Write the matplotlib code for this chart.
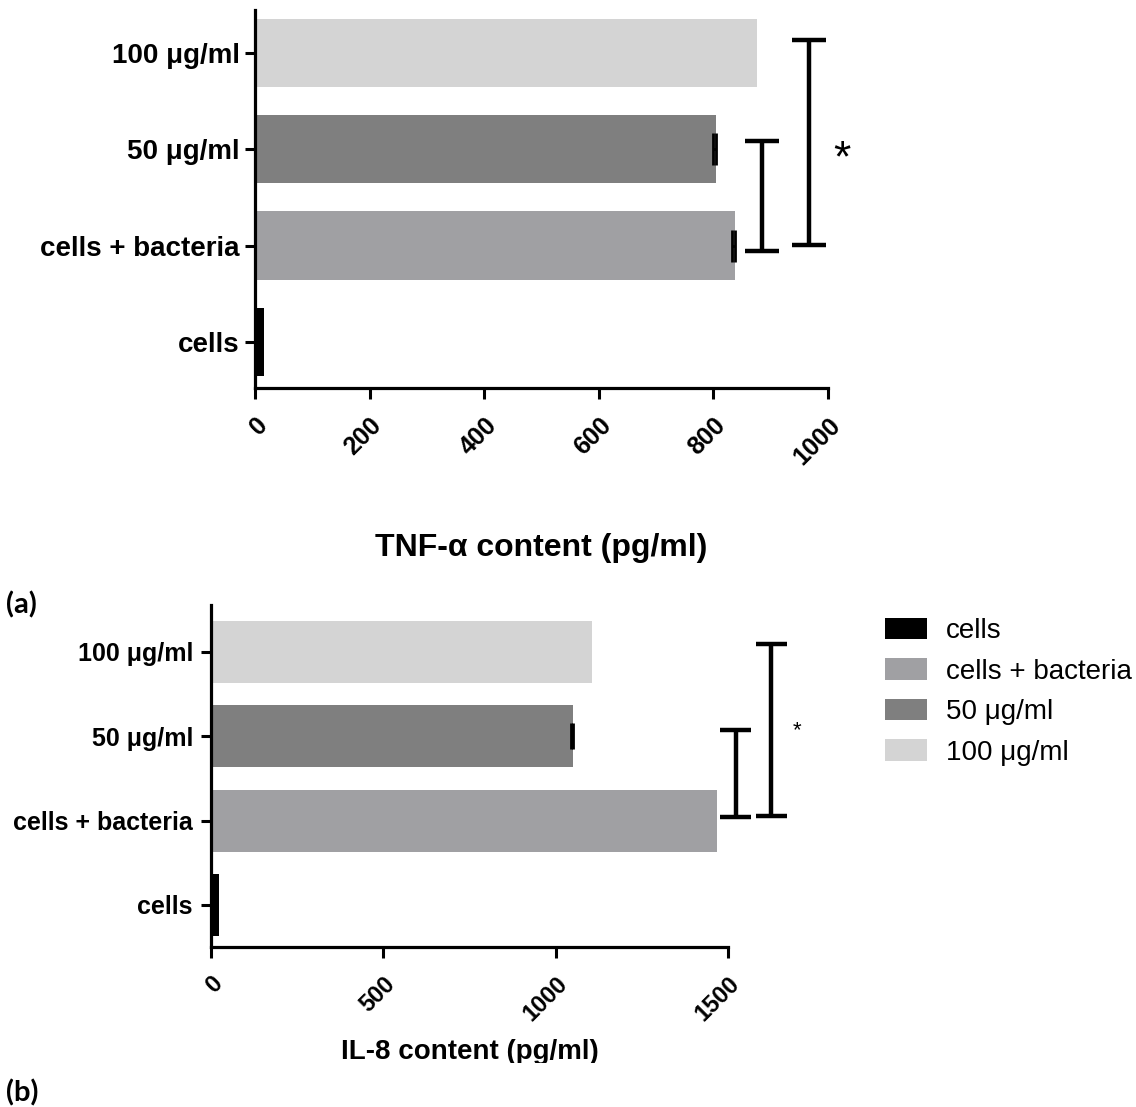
import matplotlib
matplotlib.use("Agg")
import matplotlib.pyplot as plt
from matplotlib.patches import Patch, Rectangle
import numpy as np

plt.rcParams["font.family"] = ["Liberation Sans", "DejaVu Sans"]

# --- data ---
groups = ["cells", "cells + bacteria", "50 μg/ml", "100 μg/ml"]
colors = ["#000000", "#a0a0a3", "#7f7f7f", "#d4d4d4"]

tnf_mean = [15, 838, 805, 876]
tnf_sem = [0, 5, 5, 0]
tnf_ticks = [0, 200, 400, 600, 800, 1000]

il8_mean = [23, 1467, 1049, 1104]
il8_sem = [0, 0, 5, 0]
il8_ticks = [0, 500, 1000, 1500]

# significance brackets: x position, (y start, y end)
tnf_br_x = [885, 967]
tnf_br_y = [(0.94, 2.09), (1.01, 3.13)]
il8_br_x = [1522, 1626]
il8_br_y = [(1.04, 2.07), (1.06, 3.10)]

W, H = 1136, 1107
fig = plt.figure(figsize=(W / 100, H / 100), dpi=100)


def style_axis(ax, ylabel_size, xtick_size, xlim, ylim, ticks, ypad):
    for s in ["top", "right"]:
        ax.spines[s].set_visible(False)
    for s in ["left", "bottom"]:
        ax.spines[s].set_linewidth(2.3)
    ax.set_xlim(*xlim)
    ax.set_ylim(*ylim)
    ax.set_xticks(ticks)
    ax.set_xticklabels([str(t) for t in ticks], rotation=45, ha="right",
                       va="top", rotation_mode="anchor",
                       fontsize=xtick_size, fontweight="bold")
    ax.set_yticks(range(len(groups)))
    ax.set_yticklabels(groups, fontsize=ylabel_size, fontweight="bold")
    ax.tick_params(axis="y", length=7, width=2.2, pad=ypad)
    ax.tick_params(axis="x", length=8, width=2.2, pad=10)


def draw_bars(ax, mean, sem, height, capsize):
    pos = np.arange(len(groups))
    ax.barh(pos, mean, height=height, color=colors, zorder=2)
    for p, m, e in zip(pos, mean, sem):
        if e > 0:
            ax.errorbar(m, p, xerr=[[e], [0]], fmt="none", ecolor="black",
                        elinewidth=2, capsize=capsize, capthick=2, zorder=3)


def draw_bracket(ax, x, y0, y1, cap):
    kw = dict(color="black", lw=3.2, clip_on=False, solid_capstyle="butt")
    ax.plot([x, x], [y0, y1], **kw)
    ax.plot([x - cap, x + cap], [y0, y0], **kw)
    ax.plot([x - cap, x + cap], [y1, y1], **kw)


# (a) TNF-alpha
ax1 = fig.add_axes([255 / W, 1 - 388 / H, 573 / W, 378 / H])
draw_bars(ax1, tnf_mean, tnf_sem, 0.71, 11.5)
style_axis(ax1, 20, 18, (0, 1000), (-0.478, 3.446), tnf_ticks, 4)
for x, (y0, y1) in zip(tnf_br_x, tnf_br_y):
    draw_bracket(ax1, x, y0, y1, 30)
ax1.text(1024, 1.77, "*", fontsize=32, ha="center", va="baseline", clip_on=False)
ax1.set_xlabel("TNF-α content (pg/ml)", fontsize=23, fontweight="bold")
ax1.xaxis.label.set_va("center")
ax1.xaxis.set_label_coords(0.5, (388 - 548) / 378)

# (b) IL-8
ax2 = fig.add_axes([211 / W, 1 - 947 / H, 517 / W, 342 / H])
draw_bars(ax2, il8_mean, il8_sem, 0.735, 9.5)
style_axis(ax2, 18, 17, (0, 1500), (-0.498, 3.557), il8_ticks, 6)
for x, (y0, y1) in zip(il8_br_x, il8_br_y):
    draw_bracket(ax2, x, y0, y1, 45)
ax2.text(1699, 2.0, "*", fontsize=16, ha="center", va="baseline", clip_on=False)
ax2.set_xlabel("IL-8 content (pg/ml)", fontsize=20, fontweight="bold")
ax2.xaxis.label.set_va("center")
ax2.xaxis.set_label_coords(0.5, (947 - 1052) / 342)

handles = [Patch(facecolor=c, edgecolor="none") for c in colors]
fig.legend(handles, groups, loc="upper left",
           bbox_to_anchor=(885 / W, 1 - 618 / H), frameon=False,
           fontsize=20, handlelength=1.5, handleheight=0.8,
           handletextpad=0.7, labelspacing=0.51, borderpad=0, borderaxespad=0)

# the original panel was cropped just under the IL-8 axis title
fig.patches.append(Rectangle((300 / W, 1 - 1078 / H), 400 / W, 15 / H,
                             transform=fig.transFigure, facecolor="white",
                             edgecolor="none", zorder=10))

fig.text(6 / W, 1 - 605 / H, "(a)", fontsize=21, fontweight="bold",
         family="Lato", ha="left", va="center")
fig.text(6 / W, 1 - 1093 / H, "(b)", fontsize=21, fontweight="bold",
         family="Lato", ha="left", va="center")

fig.savefig("out.png", dpi=100)
